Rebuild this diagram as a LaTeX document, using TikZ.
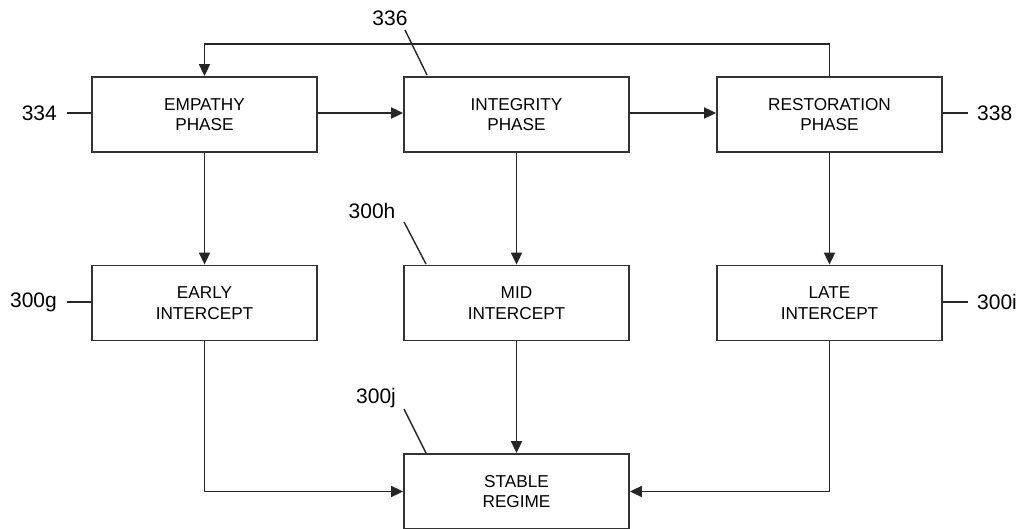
\documentclass[tikz,border=0pt]{standalone}
\usepackage{fontspec}
\setmainfont{Liberation Sans}
\usetikzlibrary{arrows.meta}
\begin{document}
\begin{tikzpicture}[x=1pt,y=-1pt,
  box/.style={draw=black!80,line width=1.8pt,minimum width=225pt,minimum height=75pt,inner sep=0pt,align=center,font=\fontsize{17.2}{20.5}\selectfont},
  conn/.style={draw=black!85,line width=1.8pt,-{Triangle[length=12pt,width=11pt]}},
  lead/.style={draw=black!85,line width=1.4pt},
  num/.style={font=\fontsize{21}{24}\selectfont,inner sep=0pt}]
\useasboundingbox (0,0) rectangle (1024,529);
\node[box] (emp) at (204.5,114.5) {EMPATHY\\PHASE};
\node[box] (int) at (516.5,114.5) {INTEGRITY\\PHASE};
\node[box] (res) at (829.5,114.5) {RESTORATION\\PHASE};
\node[box] (early) at (204.5,303) {EARLY\\INTERCEPT};
\node[box] (mid) at (516.5,303) {MID\\INTERCEPT};
\node[box] (late) at (829.5,303) {LATE\\INTERCEPT};
\node[box] (stab) at (516.5,491.5) {STABLE\\REGIME};
% connectors
\draw[conn] (emp.east |- 0,113) -- (int.west |- 0,113);
\draw[conn] (int.east |- 0,113) -- (res.west |- 0,113);
\draw[conn] (res.north) -- ++(0,-32) -| (emp.north);
\draw[conn] (emp) -- (early);
\draw[conn] (int) -- (mid);
\draw[conn] (res) -- (late);
\draw[conn] (mid) -- (stab);
\draw[conn] (early.south) |- (stab.west);
\draw[conn] (late.south) |- (stab.east);
% reference labels
\node[num,anchor=east] (l334) at (57,113) {334};
\draw[lead] ([xshift=10pt]l334.east) -- (emp.west |- 0,113);
\node[num,anchor=west] (l338) at (977,113) {338};
\draw[lead] (res.east |- 0,113) -- ([xshift=-9pt]l338.west);
\node[num,anchor=east] (l300g) at (57,302) {300g};
\draw[lead] ([xshift=10pt]l300g.east) -- (early.west |- 0,302);
\node[num,anchor=west] (l300i) at (977,302) {300i};
\draw[lead] (late.east |- 0,302) -- ([xshift=-9pt]l300i.west);
\node[num] (l336) at (390,18) {336};
\coordinate (c336) at (427,75);
\draw[lead] (405,30) -- (c336);
\node[num] (l300h) at (372,211) {300h};
\coordinate (c300h) at (426,264);
\draw[lead] (404,222) -- (c300h);
\node[num] (l300j) at (376,398) {300j};
\coordinate (c300j) at (426,453);
\draw[lead] (404,409) -- (c300j);
\end{tikzpicture}
\end{document}
